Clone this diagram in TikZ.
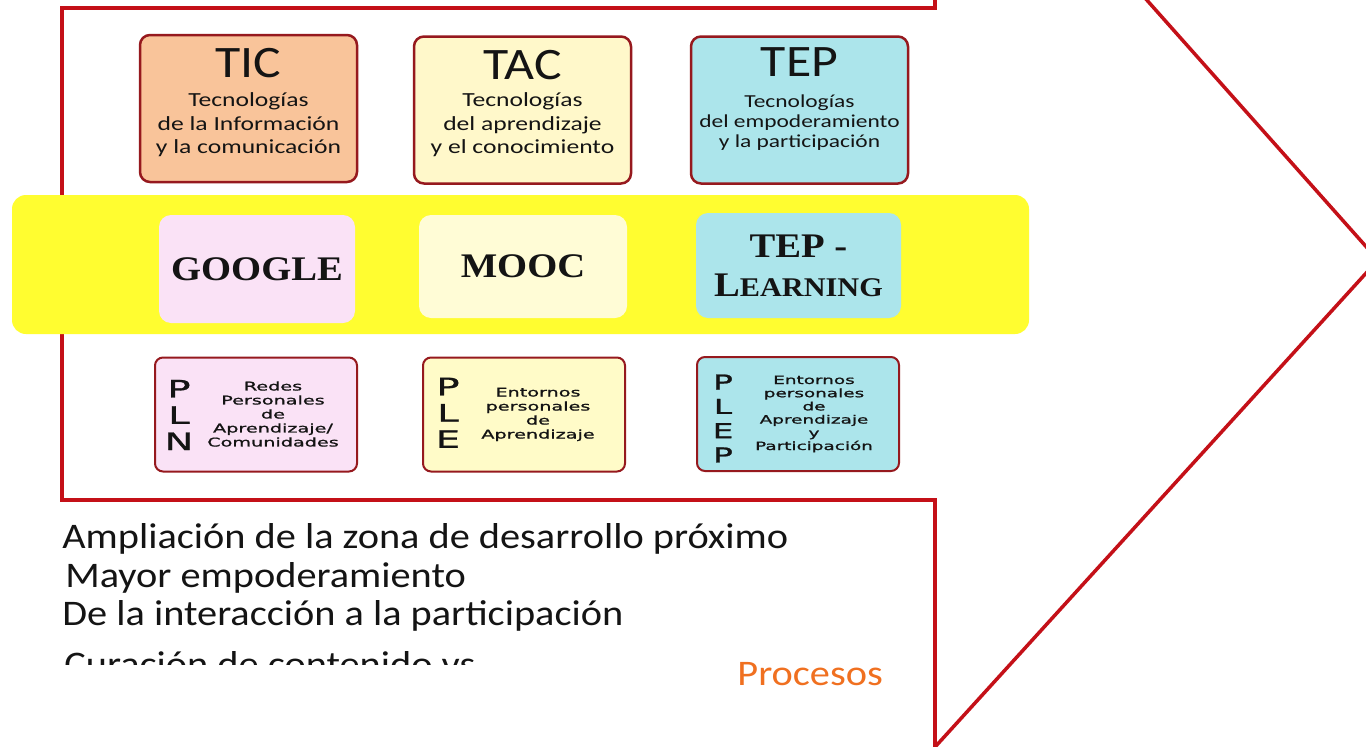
\documentclass[tikz,border=0pt]{standalone}
\usepackage{fontspec}
\usepackage{tikz}
\usetikzlibrary{positioning}
\setmainfont{Carlito}
\newfontfamily\titlefont[FakeStretch=1.15]{Carlito}
\newfontfamily\subfont[FakeStretch=1.28]{Carlito}
\newfontfamily\bodyfont[FakeStretch=1.12]{Carlito}
\newfontfamily\capsfont[FakeStretch=1.12]{Liberation Serif}
\newfontfamily\widefont[FakeStretch=1.6,FakeBold=1.2]{DejaVu Sans}

\definecolor{framered}{RGB}{196,16,24}
\definecolor{boxred}{RGB}{150,25,30}
\definecolor{ticfill}{RGB}{249,196,154}
\definecolor{tacfill}{RGB}{255,248,202}
\definecolor{tepfill}{RGB}{172,229,235}
\definecolor{bandyellow}{RGB}{255,253,48}
\definecolor{googlefill}{RGB}{250,226,246}
\definecolor{moocfill}{RGB}{255,252,214}
\definecolor{plefill}{RGB}{255,251,200}
\definecolor{procorange}{RGB}{240,112,32}
\definecolor{ink}{RGB}{20,20,20}

\tikzstyle{frame}=[
        draw = framered,
        line width = 3.5pt
    ]
\tikzstyle{top box}=[
        draw = boxred,
        line width = 2.5pt,
        rounded corners = 10pt,
        minimum width = 217pt,
        minimum height = 147pt,
        inner sep = 0pt
    ]
\tikzstyle{mid box}=[
        rounded corners = 12pt,
        minimum width = 200pt,
        minimum height = 105pt,
        inner sep = 0pt,
        text = ink,
        align = center,
        font = \capsfont\bfseries\fontsize{34.5}{39}\selectfont
    ]
\tikzstyle{low box}=[
        draw = boxred,
        line width = 2pt,
        rounded corners = 8pt,
        minimum width = 202pt,
        minimum height = 114pt,
        inner sep = 0pt
    ]
\tikzstyle{title}=[
        inner sep = 0pt,
        text = ink,
        font = \titlefont\fontsize{45}{45}\selectfont
    ]
\tikzstyle{subtitle}=[
        inner sep = 0pt,
        text = ink,
        align = center,
        font = \subfont\fontsize{20}{23.5}\selectfont
    ]
\tikzstyle{letters}=[
        inner sep = 0pt,
        text = ink,
        align = center,
        font = \widefont\fontsize{24}{26.3}\selectfont
    ]
\tikzstyle{box text}=[
        inner sep = 0pt,
        text = ink,
        align = center,
        font = \widefont\fontsize{12}{14}\selectfont
    ]
\tikzstyle{body}=[
        inner sep = 0pt,
        text = ink,
        anchor = base west,
        font = \bodyfont\fontsize{36}{38}\selectfont
    ]

\begin{document}
\begin{tikzpicture}[x=1pt, y=-1pt, thick]
        \useasboundingbox (0,0) rectangle (1366,747);
        \clip (0,0) rectangle (1366,747);
        \fill[white] (0,0) rectangle (1366,747);

        \draw[frame] (935,-5) -- (935,8) -- (62,8) -- (62,500) -- (935,500) -- (935,760);
        \draw[frame] (1129,-20) -- (1378,260) -- (935,747);

        \node[fill = bandyellow, rounded corners = 14pt, minimum width = 1017pt, minimum height = 139pt] (band) at (520.5,264.5) {};

        \node[top box, fill = ticfill] (tic) at (248.5,108.5) {};
        \node[top box, fill = tacfill] (tac) at (522.5,110) {};
        \node[top box, fill = tepfill] (tep) at (799.5,110) {};
        \node[title, anchor = base] (tictitle) at (248.5,77) {TIC};
        \node[title, anchor = base] (tactitle) at (522.5,79) {TAC};
        \node[title, anchor = base] (teptitle) at (799.5,76) {TEP};
        \node[subtitle, anchor = north] (ticsub) at (248.5,92.5) {Tecnologías\\de la Información\\y la comunicación};
        \node[subtitle, anchor = north] (tacsub) at (522.5,92.5) {Tecnologías\\del aprendizaje\\y el conocimiento};
        \node[subtitle, anchor = north, font = \subfont\fontsize{18.3}{20}\selectfont] (tepsub) at (799.5,94.5) {Tecnologías\\del empoderamiento\\y la participación};

        \node[mid box, fill = googlefill, minimum width = 196pt, minimum height = 108pt] (google) at (257,269) {GOOGLE};
        \node[mid box, fill = moocfill, minimum width = 208pt, minimum height = 103pt] (mooc) at (523,266.5) {MOOC};
        \node[mid box, fill = tepfill, minimum width = 205pt] (tepl) at (798.5,265.5) {TEP -\\\fontsize{34.5}{39}\selectfont L\fontsize{27}{39}\selectfont EARNING};

        \node[low box, fill = googlefill] (pln) at (256,414.5) {};
        \node[low box, fill = plefill] (ple) at (524,414.5) {};
        \node[low box, fill = tepfill] (plep) at (798,414) {};
        \node[letters] (plnletters) at (179,415) {P\\L\\N};
        \node[box text] (plntext) at (273,414) {Redes\\Personales\\de\\Aprendizaje/\\Comunidades};
        \node[letters] (pleletters) at (448,412.8) {P\\L\\E};
        \node[box text] (pletext) at (538,414.4) {Entornos\\personales\\de\\Aprendizaje};
        \node[letters, font = \widefont\fontsize{20.5}{24.3}\selectfont] (plepletters) at (723,418.5) {P\\L\\E\\P};
        \node[box text, font = \widefont\fontsize{11.5}{13.2}\selectfont] (pleptext) at (814,414) {Entornos\\personales\\de\\Aprendizaje\\y\\Participación};

        \node[body] (zona) at (62,548) {Ampliación de la zona de desarrollo próximo};
        \node[body] (empod) at (65,587) {Mayor empoderamiento};
        \node[body] (partic) at (62,625) {De la interacción a la participación};
        \begin{scope}
            \clip (40,600) rectangle (900,664);
            \node[body] (curacion) at (64,676) {Curación de contenido vs};
        \end{scope}
        \node[body, text = procorange] (procesos) at (737,685) {Procesos};

    \end{tikzpicture}
\end{document}
